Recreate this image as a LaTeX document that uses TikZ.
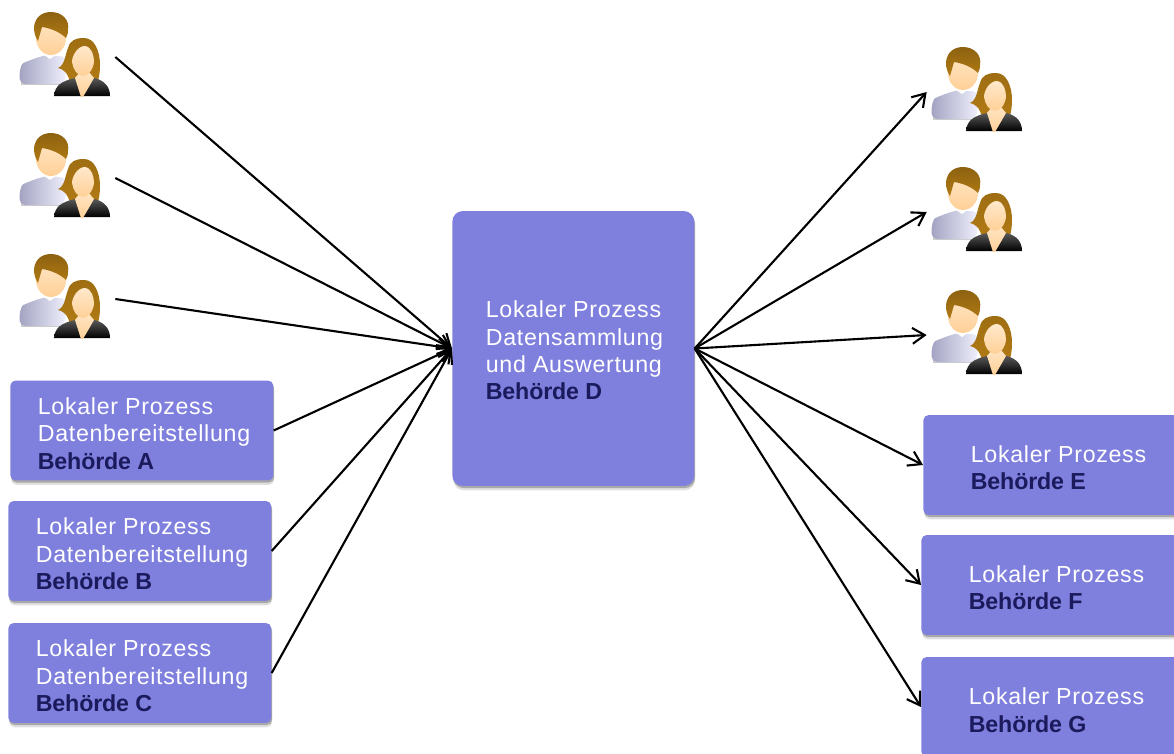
\documentclass[tikz,border=0pt]{standalone}
\usepackage{fontspec}
\setmainfont{Liberation Sans}
\newfontfamily\boxfont[LetterSpace=3]{Liberation Sans}
\newfontfamily\amtfont[LetterSpace=-.6]{Liberation Sans}
\usetikzlibrary{shadows,arrows.meta,positioning}
\definecolor{boxblue}{HTML}{7F7FDD}
\definecolor{boxdark}{HTML}{1A1A5C}
\definecolor{hairbrown}{HTML}{B07A14}
\definecolor{skin}{HTML}{FFD9A8}
\gdef\Lokal{Lokaler Prozess}
\gdef\Bereit{Datenbereitstellung}
\gdef\Amt#1{\textcolor{boxdark}{\amtfont\bfseries Behörde #1}}
\tikzset{
  procbox/.style={fill=boxblue, rounded corners=3pt, minimum width=5.26cm, minimum height=2cm, anchor=west,
    drop shadow={shadow xshift=.5pt, shadow yshift=-2.5pt, opacity=.12, fill=black},
    drop shadow={shadow xshift=.5pt, shadow yshift=-1.2pt, opacity=.25, fill=black}},
  proctext/.style={inner sep=0pt, text=white, align=left, font=\boxfont\fontsize{13.2}{15.6}\selectfont},
  userbox/.style={minimum width=2cm, minimum height=1.6cm, inner sep=0pt},
  people/.pic={
    \begin{scope}[shift={(-65,-57)}]
      \fill[black!20] (21,85) -- (60,85) -- (60,80) -- (21,80) -- cycle;
      \shade[left color=blue!20!gray!60, right color=blue!5!white, rounded corners=3pt]
        (20,84) .. controls (19,72) and (21,64) .. (28,61) .. controls (36,58) and (42,56) .. (50,55)
        .. controls (56,56) and (62,56) .. (68,60) -- (64,84) -- cycle;
      \fill[white] (43,54) -- (50,59) -- (57,54) -- (52,51) -- (47,51) -- cycle;
      \shade[top color=skin!70!white, bottom color=skin!90!orange] (51,38) ellipse (15 and 17);
      \shade[top color=hairbrown!80!black, bottom color=hairbrown]
        (34,27) .. controls (35,18) and (41,12) .. (51,12)
        .. controls (62,12) and (70,20) .. (68,30) .. controls (68,34) and (67,36) .. (66,38)
        .. controls (60,32) and (50,28) .. (42,27) -- (38,41) .. controls (35,37) and (34,32) .. (34,27) -- cycle;
      \shade[top color=hairbrown!90!black, bottom color=hairbrown]
        (58,68) .. controls (65,65) and (65,55) .. (68,48) .. controls (70,40) and (76,38) .. (84,38)
        .. controls (95,38) and (100,52) .. (100,65) .. controls (100,72) and (99,78) .. (98,80)
        -- (70,82) .. controls (68,75) and (66,70) .. (58,68) -- cycle;
      \shade[top color=gray!70!black, bottom color=black]
        (54,96) .. controls (55,85) and (62,81) .. (75,78) -- (95,78)
        .. controls (105,81) and (110,87) .. (110,96) -- cycle;
      \shade[top color=skin!70!white, bottom color=skin!90!orange]
        (75,78) -- (80,72) -- (89,72) -- (94,78) -- (83,97) -- (81,97) -- cycle;
      \shade[top color=skin!60!white, bottom color=skin!90!orange]
        (72,62) .. controls (72,55) and (78,46) .. (85,46)
        .. controls (92,47) and (94,56) .. (94,62) .. controls (93,70) and (88,76) .. (83,76)
        .. controls (77,76) and (73,69) .. (72,62) -- cycle;
    \end{scope}
  }
}
\begin{document}
\begin{tikzpicture}[x=0.02cm, y=-0.02cm]

\useasboundingbox (0,0) rectangle (1174,754);

\node[procbox, rounded corners=6pt, minimum width=4.84cm, minimum height=5.5cm] (D) at (452,348.5) {};
\node[procbox] (A) at (10,430.5) {};
\node[procbox] (B) at (8,551) {};
\node[procbox] (C) at (8,673) {};
\node[procbox] (E) at (923,465) {};
\node[procbox] (F) at (921,585) {};
\node[procbox] (G) at (921,707) {};

\node[proctext, right=0.67cm of D.west, yshift=-0.04cm] (Dtext) {\Lokal\\Datensammlung\\und Auswertung\\\Amt{D}};
\node[proctext, right=0.55cm of A.west, yshift=-0.06cm] (Atext) {\Lokal\\\Bereit\\\Amt{A}};
\node[proctext, right=0.55cm of B.west, yshift=-0.06cm] (Btext) {\Lokal\\\Bereit\\\Amt{B}};
\node[proctext, right=0.55cm of C.west, yshift=-0.06cm] (Ctext) {\Lokal\\\Bereit\\\Amt{C}};
\node[proctext, right=0.95cm of E.west, yshift=-0.06cm] (Etext) {\Lokal\\\Amt{E}};
\node[proctext, right=0.95cm of F.west, yshift=-0.06cm] (Ftext) {\Lokal\\\Amt{F}};
\node[proctext, right=0.95cm of G.west, yshift=-0.06cm] (Gtext) {\Lokal\\\Amt{G}};

\node[userbox] (U1) at (65,57) {};
\node[userbox] (U2) at (65,178) {};
\node[userbox] (U3) at (65,299) {};
\node[userbox] (U4) at (977,92) {};
\node[userbox] (U5) at (977,212) {};
\node[userbox] (U6) at (977,335) {};
\foreach \u in {U1,U2,U3,U4,U5,U6}
  \pic at (\u) {people};

\path[-{Straight Barb[length=7pt,width=9pt]}, line width=1.2pt]
	(U1.east) 	edge (D.west)
	(U2.east) 	edge (D.west)
	(U3.east) 	edge (D.west)
	(A.east) 	edge (D.west)
	(B.east) 	edge (D.west)
	(C.east) 	edge (D.west)
	(D.east) 	edge (U4.west)
		edge (U5.west)
		edge (U6.west)
		edge (E.west)
		edge (F.west)
		edge (G.west)
	;

\end{tikzpicture}
\end{document}
